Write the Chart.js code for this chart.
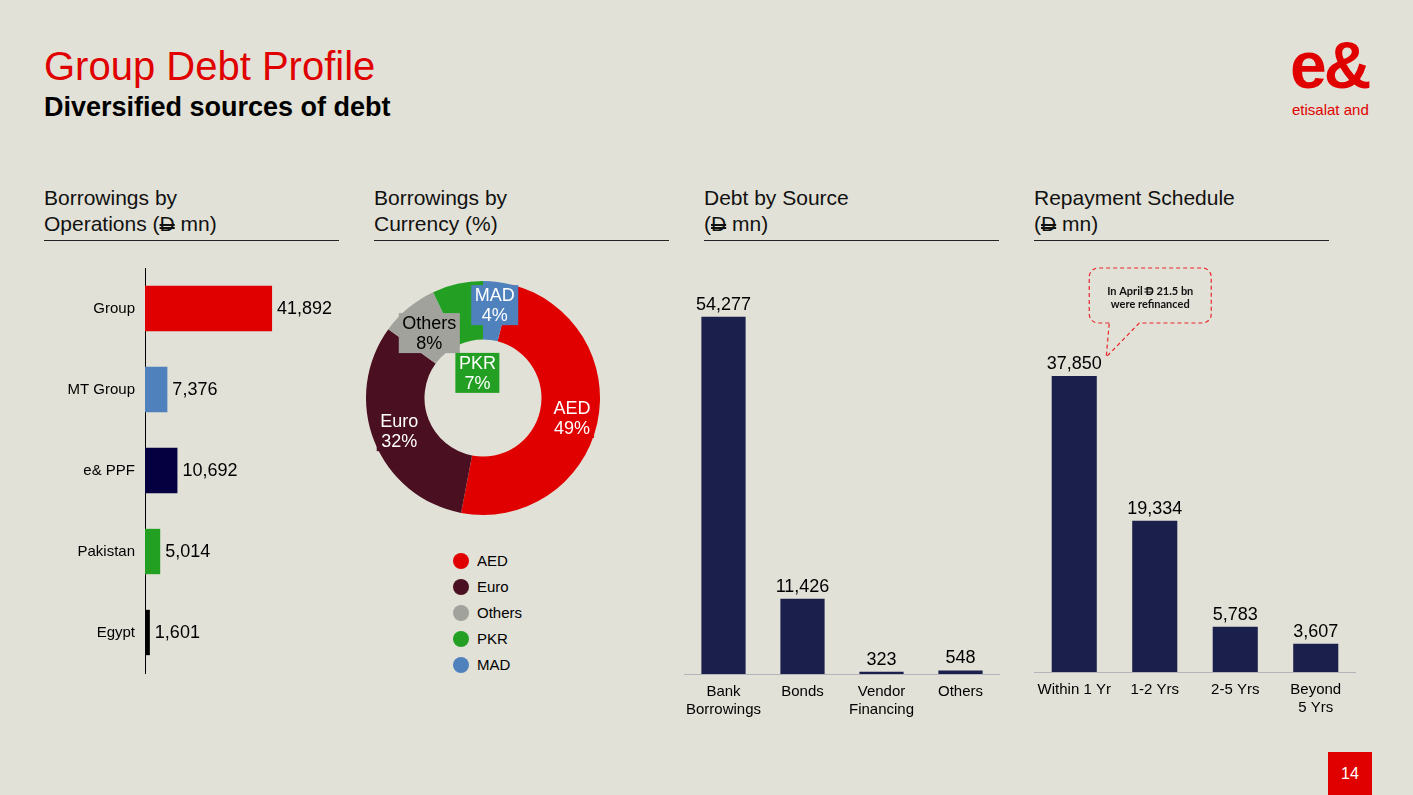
<!DOCTYPE html>
<html lang="en">
<head>
<meta charset="UTF-8">
<title>Group Debt Profile</title>
<script src="https://cdn.jsdelivr.net/npm/chart.js"></script>
<style>
body {
    margin: 0;
    width: 1413px;
    height: 795px;
    overflow: hidden;
    position: relative;
    background-color: #e2e1d7;
    font-family: "Liberation Sans", Arial, sans-serif;
    color: #000;
}
.abs { position: absolute; }
#title { left: 44px; top: 43px; font-size: 40px; line-height: 46px; color: #e00000; }
#subtitle { left: 44px; top: 92px; font-size: 27px; line-height: 31px; font-weight: bold; }
.head {
    top: 185px;
    width: 295px;
    height: 56px;
    box-sizing: border-box;
    border-bottom: 1px solid #222;
    font-size: 21px;
    line-height: 26px;
    color: #111;
}
.dh { text-decoration: line-through double; }
#logo { left: 1290px; top: 28px; font-size: 66px; line-height: 74px; font-weight: bold; color: #e00000; letter-spacing: -3px; }
#logoText { left: 1292px; top: 101px; font-size: 15px; line-height: 18px; color: #e00000; }
#page {
    left: 1328px; top: 752px; width: 44px; height: 43px;
    background: #e00000; color: #fff; font-size: 16px; line-height: 43px; text-align: center;
}
#legend { left: 453px; top: 548px; font-size: 15px; }
.li { height: 26px; line-height: 26px; display: flex; align-items: center; }
.dot { width: 16px; height: 16px; border-radius: 50%; margin-right: 8px; }
</style>
</head>
<body>

<div id="title" class="abs">Group Debt Profile</div>
<div id="subtitle" class="abs">Diversified sources of debt</div>
<div id="logo" class="abs">e&amp;</div>
<div id="logoText" class="abs">etisalat and</div>

<div class="abs head" style="left:44px">Borrowings by<br>Operations (<span class="dh">D</span> mn)</div>
<div class="abs head" style="left:374px">Borrowings by<br>Currency (%)</div>
<div class="abs head" style="left:704px">Debt by Source<br>(<span class="dh">D</span> mn)</div>
<div class="abs head" style="left:1034px">Repayment Schedule<br>(<span class="dh">D</span> mn)</div>

<div class="abs" style="left:40px;top:257px;width:300px;height:427px"><canvas id="opsChart"></canvas></div>
<div class="abs" style="left:366px;top:281px;width:234px;height:234px"><canvas id="currencyChart"></canvas></div>
<div id="legend" class="abs"></div>
<div class="abs" style="left:684px;top:279px;width:316px;height:441px"><canvas id="sourceChart"></canvas></div>
<div class="abs" style="left:1034px;top:255px;width:322px;height:465px"><canvas id="repayChart"></canvas></div>

<div id="page" class="abs">14</div>

<script>
    var opsLabels = ['Group', 'MT Group', 'e& PPF', 'Pakistan', 'Egypt'];
    var opsValues = [41892, 7376, 10692, 5014, 1601];
    var opsColors = ['#e00000', '#4f81bd', '#050040', '#22a022', '#000000'];

    var currencyLabels = ['AED', 'Euro', 'Others', 'PKR', 'MAD'];
    var currencyShares = [49, 32, 8, 7, 4];
    var currencyColors = ['#e00000', '#4a0f20', '#a2a29d', '#23a023', '#4f81bd'];

    var sourceLabels = [['Bank', 'Borrowings'], 'Bonds', ['Vendor', 'Financing'], 'Others'];
    var sourceValues = [54277, 11426, 323, 548];

    var repayLabels = ['Within 1 Yr', '1-2 Yrs', '2-5 Yrs', ['Beyond', '5 Yrs']];
    var repayValues = [37850, 19334, 5783, 3607];

    var navy = '#1b1f4b';

    Chart.defaults.font.family = '"Liberation Sans", Arial, sans-serif';
    Chart.defaults.color = '#000';
    Chart.defaults.animation = false;

    // numbers next to / above each bar
    var valueLabels = {
        id: 'valueLabels',
        afterDatasetsDraw: function (chart, args, opts) {
            var ctx = chart.ctx;
            var data = chart.data.datasets[0].data;
            ctx.save();
            ctx.font = '18px "Liberation Sans"';
            ctx.fillStyle = '#000';
            chart.getDatasetMeta(0).data.forEach(function (bar, i) {
                var text = data[i].toLocaleString('en-US');
                if (opts.horizontal) {
                    ctx.textAlign = 'left';
                    ctx.textBaseline = 'middle';
                    ctx.fillText(text, bar.x + 5, bar.y + 1);
                } else {
                    ctx.textAlign = 'center';
                    ctx.textBaseline = 'alphabetic';
                    ctx.fillText(text, bar.x, bar.y - 7);
                }
            });
            ctx.restore();
        }
    };

    // boxed labels on the donut
    var labelRadius = [0.78, 0.77, 0.72, 0.22, 0.8];
    var labelText = ['#fff', '#fff', '#000', '#fff', '#fff'];
    var sliceLabels = {
        id: 'sliceLabels',
        afterDatasetsDraw: function (chart) {
            var ctx = chart.ctx;
            ctx.save();
            ctx.font = '18px "Liberation Sans"';
            ctx.textAlign = 'center';
            ctx.textBaseline = 'middle';
            chart.getDatasetMeta(0).data.forEach(function (arc, i) {
                var p = arc.getProps(['x', 'y', 'startAngle', 'endAngle', 'outerRadius'], true);
                var mid = (p.startAngle + p.endAngle) / 2;
                var r = p.outerRadius * labelRadius[i];
                var cx = p.x + r * Math.cos(mid);
                var cy = p.y + r * Math.sin(mid);
                var l1 = currencyLabels[i], l2 = currencyShares[i] + '%';
                var w = Math.max(ctx.measureText(l1).width, ctx.measureText(l2).width) + 7;
                ctx.fillStyle = currencyColors[i];
                ctx.fillRect(cx - w / 2, cy - 20, w, 40);
                ctx.fillStyle = labelText[i];
                ctx.fillText(l1, cx, cy - 9);
                ctx.fillText(l2, cx, cy + 11);
            });
            ctx.restore();
        }
    };

    // dashed speech bubble above the first repayment bar
    var callout = {
        id: 'callout',
        afterDatasetsDraw: function (chart) {
            var bar = chart.getDatasetMeta(0).data[0];
            var ctx = chart.ctx;
            var L = bar.x + 15, R = bar.x + 137, T = bar.y - 108, B = bar.y - 53, rad = 9;
            var t1 = bar.x + 35, t2 = bar.x + 65, tipX = bar.x + 32, tipY = bar.y - 19;
            ctx.save();
            ctx.strokeStyle = '#e8262b';
            ctx.lineWidth = 1.2;
            ctx.setLineDash([4, 3]);
            ctx.beginPath();
            ctx.moveTo(t1, B);
            ctx.lineTo(L + rad, B);
            ctx.arcTo(L, B, L, B - rad, rad);
            ctx.lineTo(L, T + rad);
            ctx.arcTo(L, T, L + rad, T, rad);
            ctx.lineTo(R - rad, T);
            ctx.arcTo(R, T, R, T + rad, rad);
            ctx.lineTo(R, B - rad);
            ctx.arcTo(R, B, R - rad, B, rad);
            ctx.lineTo(t2, B);
            ctx.lineTo(tipX, tipY);
            ctx.lineTo(t1, B);
            ctx.stroke();

            ctx.setLineDash([]);
            ctx.fillStyle = '#111';
            ctx.font = 'bold 11px Lato';
            ctx.textBaseline = 'middle';
            var cx = (L + R) / 2;
            var a = 'In April ', d = 'D', b = ' 21.5 bn';
            var wa = ctx.measureText(a).width, wd = ctx.measureText(d).width, wb = ctx.measureText(b).width;
            var x0 = cx - (wa + wd + wb) / 2, y1 = T + 23;
            ctx.textAlign = 'left';
            ctx.fillText(a, x0, y1);
            ctx.fillText(d, x0 + wa, y1);
            ctx.fillText(b, x0 + wa + wd, y1);
            ctx.strokeStyle = '#111';
            ctx.lineWidth = 1;
            ctx.beginPath();
            ctx.moveTo(x0 + wa - 1, y1 - 2); ctx.lineTo(x0 + wa + wd - 1, y1 - 2);
            ctx.moveTo(x0 + wa - 1, y1 + 1); ctx.lineTo(x0 + wa + wd - 1, y1 + 1);
            ctx.stroke();
            ctx.textAlign = 'center';
            ctx.fillText('were refinanced', cx, y1 + 13);
            ctx.restore();
        }
    };

    new Chart(document.getElementById('opsChart'), {
        type: 'bar',
        data: {
            labels: opsLabels,
            datasets: [{
                data: opsValues,
                backgroundColor: opsColors,
                barPercentage: 0.56,
                categoryPercentage: 1
            }]
        },
        options: {
            indexAxis: 'y',
            responsive: true,
            maintainAspectRatio: false,
            layout: { padding: { right: 13 } },
            plugins: {
                legend: { display: false },
                tooltip: { enabled: false },
                valueLabels: { horizontal: true }
            },
            scales: {
                x: { display: false, min: 0, max: 60000 },
                y: {
                    grid: { display: false },
                    border: { display: true, color: '#000', width: 1 },
                    ticks: { color: '#000', font: { size: 15 }, padding: 2 },
                    afterFit: function (s) { s.width = 105; }
                }
            }
        },
        plugins: [valueLabels]
    });

    new Chart(document.getElementById('currencyChart'), {
        type: 'doughnut',
        data: {
            labels: currencyLabels,
            datasets: [{
                data: currencyShares,
                backgroundColor: currencyColors,
                borderWidth: 0
            }]
        },
        options: {
            responsive: true,
            maintainAspectRatio: false,
            cutout: '50%',
            rotation: 14.4,
            plugins: { legend: { display: false }, tooltip: { enabled: false } }
        },
        plugins: [sliceLabels]
    });

    var legend = document.getElementById('legend');
    currencyLabels.forEach(function (l, i) {
        legend.insertAdjacentHTML('beforeend',
            '<div class="li"><span class="dot" style="background:' + currencyColors[i] + '"></span>' + l + '</div>');
    });

    function columnChart(id, labels, values, max, padTop, axisHeight, extra) {
        return new Chart(document.getElementById(id), {
            type: 'bar',
            data: {
                labels: labels,
                datasets: [{
                    data: values,
                    backgroundColor: navy,
                    barPercentage: 0.56,
                    categoryPercentage: 1
                }]
            },
            options: {
                responsive: true,
                maintainAspectRatio: false,
                layout: { padding: { top: padTop } },
                plugins: { legend: { display: false }, tooltip: { enabled: false } },
                scales: {
                    x: {
                        grid: { display: false },
                        border: { display: true, color: '#b4b4bc', width: 1 },
                        ticks: { color: '#000', font: { size: 15, lineHeight: 1.2 }, padding: 1, maxRotation: 0, autoSkip: false },
                        afterFit: function (s) { s.height = axisHeight; }
                    },
                    y: { display: false, min: 0, max: max }
                }
            },
            plugins: [valueLabels].concat(extra)
        });
    }

    columnChart('sourceChart', sourceLabels, sourceValues, 60000, 0, 46, []);
    columnChart('repayChart', repayLabels, repayValues, 50000, 26, 48, [callout]);
</script>

</body>
</html>
